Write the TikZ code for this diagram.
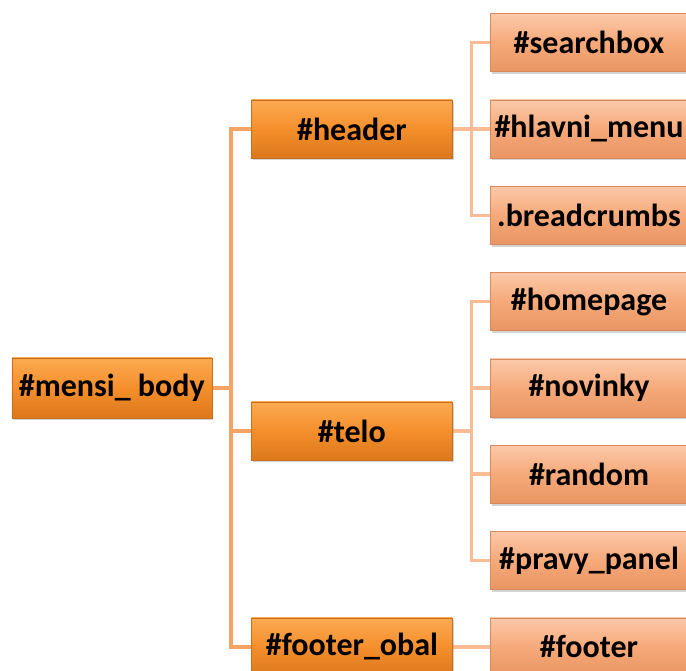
\documentclass[tikz,border=0pt]{standalone}
\usepackage{fontspec}
\setmainfont{Carlito}
\usetikzlibrary{positioning, shadows, backgrounds}
\definecolor{darkTop}{HTML}{FBAA52}
\definecolor{darkMid}{HTML}{F58F2C}
\definecolor{darkBot}{HTML}{DB781C}
\definecolor{darkEdge}{HTML}{C96E1C}
\definecolor{lightTop}{HTML}{FBC9AA}
\definecolor{lightMid}{HTML}{F6A979}
\definecolor{lightBot}{HTML}{E99563}
\definecolor{lightEdge}{HTML}{D98A5C}
\definecolor{wireA}{HTML}{F6A463}
\definecolor{wireB}{HTML}{F9BC94}
\tikzset{
box/.style={rectangle, minimum height=58pt, inner sep=0pt, line width=0.6pt,
  font=\bfseries\fontsize{32}{34}\selectfont,
  drop shadow={shadow xshift=1.5pt, shadow yshift=-2.5pt, opacity=0.35}}, % common look of every box
darkbox/.style={box, minimum width=201pt, top color=darkTop, bottom color=darkBot, middle color=darkMid, draw=darkEdge}, % root and first level
lightbox/.style={box, minimum width=198pt, top color=lightTop, bottom color=lightBot, middle color=lightMid, draw=lightEdge}, % second level
wire/.style={line width=3.5pt, color=wireA}, % lines from the root
subwire/.style={line width=3.5pt, color=wireB}, % lines to the second level
}
\begin{document}
\begin{tikzpicture}
  \useasboundingbox (0,0) rectangle (686pt,-671pt);

  % second level, top to bottom
  \node[lightbox] (hlavni) at (589pt,-129pt) {\#hlavni\_menu};
  \node[lightbox, above=27.7pt of hlavni] (search) {\#searchbox};
  \node[lightbox, below=27.7pt of hlavni] (crumbs) {.breadcrumbs};
  \node[lightbox, below=27.7pt of crumbs] (homepage) {\#homepage};
  \node[lightbox, below=27.7pt of homepage] (novinky) {\#novinky};
  \node[lightbox, below=27.7pt of novinky] (random) {\#random};
  \node[lightbox, below=27.7pt of random] (panel) {\#pravy\_panel};
  \node[lightbox, below=27.7pt of panel] (footer) {\#footer};

  % first level
  \node[darkbox, left=37pt of hlavni] (header) {\#header};
  \node[darkbox, left=37pt of novinky, yshift=-43pt] (telo) {\#telo};
  \node[darkbox, left=37pt of footer] (obal) {\#footer\_obal};

  % root
  \node[darkbox, minimum width=200pt, minimum height=60pt, left=39pt of telo, yshift=43pt] (root) {\#mensi\_ body};

  \begin{scope}[on background layer]
    \draw[wire] (root.east) -- ++(19pt,0) |- (header.west);
    \draw[wire] (root.east) -- ++(19pt,0) |- (telo.west);
    \draw[wire] (root.east) -- ++(19pt,0) |- (obal.west);

    \draw[subwire] (header.east) -- ++(19pt,0) |- (search.west);
    \draw[subwire] (header.east) -- ++(19pt,0) |- (hlavni.west);
    \draw[subwire] (header.east) -- ++(19pt,0) |- (crumbs.west);

    \draw[subwire] (telo.east) -- ++(19pt,0) |- (homepage.west);
    \draw[subwire] (telo.east) -- ++(19pt,0) |- (novinky.west);
    \draw[subwire] (telo.east) -- ++(19pt,0) |- (random.west);
    \draw[subwire] (telo.east) -- ++(19pt,0) |- (panel.west);

    \draw[subwire] (obal.east) -- (footer.west);
  \end{scope}
\end{tikzpicture}
\end{document}
